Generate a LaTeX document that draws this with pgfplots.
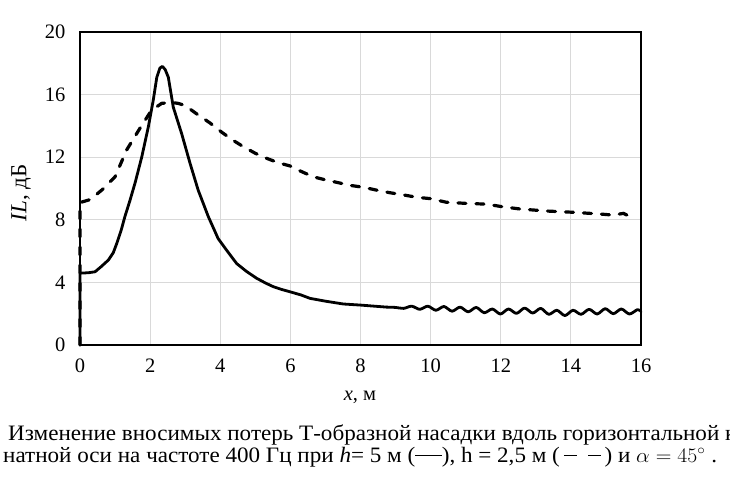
\documentclass[border=0pt]{standalone}
\usepackage{pgfplots}
\pgfplotsset{compat=1.18}
\usepackage{fontspec}
\setmainfont{Liberation Serif}
\begin{document}
\begin{tikzpicture}
\begin{axis}[
  at={(0,0)}, anchor=south west,
  scale only axis, width=561bp, height=313bp,
  xmin=0, xmax=16, ymin=0, ymax=20,
  xtick={0,2,...,16}, ytick={0,4,...,20},
  grid=major, grid style={draw=black!15, line width=0.9bp},
  major tick length=0,
  axis line style={line width=1.4bp},
  /pgf/number format/assume math mode=true,
  ticklabel style={font=\fontsize{20.5bp}{24bp}\selectfont},
  xticklabel style={yshift=-10bp},
  yticklabel style={xshift=-11bp},
  xlabel={\textit{x}, м}, ylabel={\textit{IL}, дБ},
  xlabel style={font=\fontsize{20.5bp}{24bp}\selectfont, at={(axis description cs:0.499,0)}, anchor=base, yshift=-55bp},
  ylabel style={font=\fontsize{23bp}{26bp}\selectfont, at={(axis description cs:-0.105,0.486)}, anchor=center},
  clip=false,
]
% dashed: h = 2.5 m
\addplot[black, line width=3.2bp, line cap=round, dash pattern=on 8bp off 10bp] coordinates {
(0,0) (0,9.1) (0.3,9.3) (0.62,9.9) (1.0,10.75) (1.33,12.46) (1.71,13.85) (2.04,15.0)
(2.33,15.44) (2.6,15.5) (2.8,15.44) (3.0,15.3) (3.37,14.7) (3.7,14.2) (4.04,13.6)
(4.35,13.1) (4.66,12.67) (5.0,12.25) (5.32,11.93) (5.65,11.65) (5.99,11.44) (6.3,11.1)
(6.65,10.75) (7.0,10.55) (7.37,10.37) (7.7,10.2) (8.08,10.08) (8.45,9.9) (8.84,9.73)
(9.2,9.6) (9.6,9.44) (10.0,9.35) (10.45,9.12) (11.0,9.05) (11.6,9.0) (12.0,8.85)
(12.55,8.69) (13.31,8.56) (14.07,8.48) (14.83,8.37) (15.2,8.3) (15.5,8.41) (15.69,8.2)
};
% solid: h = 5 m
\addplot[black, line width=2.8bp, line cap=round, line join=round] coordinates {
(0,0) (0,4.6) (0.1,4.6) (0.25,4.62) (0.43,4.68) (0.6,5.0) (0.81,5.43) (0.95,5.9)
(1.05,6.5) (1.17,7.3) (1.28,8.2) (1.42,9.2) (1.57,10.35) (1.76,12.0) (1.95,13.95)
(2.09,15.65) (2.19,17.1) (2.28,17.7) (2.35,17.8) (2.43,17.6) (2.52,17.1) (2.66,15.2)
(2.9,13.5) (3.14,11.6) (3.37,9.9) (3.66,8.2) (3.94,6.8) (4.2,6.0) (4.47,5.2)
(4.75,4.7) (5.04,4.26) (5.3,3.95) (5.51,3.73) (5.75,3.55) (5.99,3.4) (6.3,3.2)
(6.56,2.98) (7.0,2.8) (7.51,2.62) (8.0,2.55) (8.75,2.42)
};
\addplot[black, line width=2.8bp, line cap=round, line join=round, smooth, tension=0.5] coordinates {
(8.75,2.42) (9.0,2.40) (9.23,2.34) (9.46,2.48) (9.69,2.28) (9.92,2.48) (10.15,2.22)
(10.38,2.46) (10.61,2.16) (10.84,2.42) (11.07,2.12) (11.30,2.40) (11.53,2.06)
(11.76,2.30) (11.99,1.98) (12.22,2.30) (12.45,2.02) (12.68,2.36) (12.91,2.04)
(13.14,2.34) (13.37,1.96) (13.60,2.22) (13.83,1.88) (14.06,2.22) (14.29,1.96)
(14.52,2.28) (14.75,1.98) (14.98,2.32) (15.21,2.00) (15.44,2.30) (15.67,1.98)
(15.90,2.26) (16.0,2.15)
};
\end{axis}
\node[anchor=base west, inner sep=0pt, font=\fontsize{22bp}{26bp}\selectfont] at (-72bp,-95bp)
  {\scalebox{1.05}[1]{Изменение вносимых потерь Т-образной насадки вдоль горизонтальной координатной}};
\node[anchor=base west, inner sep=0pt, font=\fontsize{22bp}{26bp}\selectfont] at (-77bp,-117bp)
  {\scalebox{1.05}[1]{натной оси на частоте 400 Гц при \textit{h}= 5 м (\rule[0.27em]{1.15em}{0.07em}), h = 2,5 м (\,\rule[0.27em]{0.55em}{0.07em}\enspace\rule[0.27em]{0.55em}{0.07em}\,) и $\alpha = 45^{\circ}$ .}};
\pgfresetboundingbox
\useasboundingbox (-80bp,-141bp) rectangle (650bp,345bp);
\end{tikzpicture}
\end{document}
